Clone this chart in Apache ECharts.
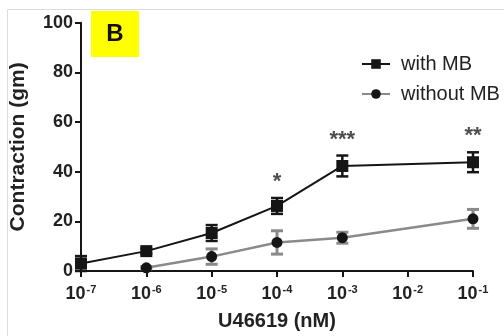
<!DOCTYPE html>
<html><head><meta charset="utf-8">
<script src="https://cdn.jsdelivr.net/npm/echarts@6/dist/echarts.min.js"></script>
<style>html,body{margin:0;padding:0;background:#fff}#c{width:504px;height:336px}</style>
</head><body><div id="c"></div>
<script>
// log10 of U46619 dose (nM)
const exponents = [-7, -6, -5, -4, -3, -2, -1];
const withX = [-7, -6, -5, -4, -3, -1];
const withMean = [3.0, 8.0, 15.3, 26.2, 42.3, 43.8];
const withErr = [3.0, 1.0, 3.2, 3.2, 4.2, 4.0];
const withoutX = [-6, -5, -4, -3, -1];
const withoutMean = [1.3, 5.8, 11.5, 13.4, 21.0];
const withoutErr = [0.5, 3.1, 4.7, 2.2, 3.8];
const sigX = [-4, -3, -1];
const sigY = [35.8, 52.7, 54.3];
const sigText = ['*', '***', '**'];
const yTicks = [0, 20, 40, 60, 80, 100];

const chart = echarts.init(document.getElementById('c'), null, {renderer: 'canvas'});
const FF = 'Liberation Sans, Arial, sans-serif';
const BLACK = '#151515', GRAY = '#8a8a8a';

function errSeries(xs, means, errs, color, w) {
  return {
    type: 'custom', silent: true, z: 3,
    data: xs.map((x, i) => [x, means[i] - errs[i], means[i] + errs[i]]),
    renderItem: function (params, api) {
      const lo = api.coord([api.value(0), api.value(1)]);
      const hi = api.coord([api.value(0), api.value(2)]);
      const cw = 6;
      const style = {stroke: color, lineWidth: w};
      return {type: 'group', children: [
        {type: 'line', shape: {x1: lo[0], y1: lo[1], x2: hi[0], y2: hi[1]}, style: style},
        {type: 'line', shape: {x1: lo[0] - cw, y1: lo[1], x2: lo[0] + cw, y2: lo[1]}, style: style},
        {type: 'line', shape: {x1: hi[0] - cw, y1: hi[1], x2: hi[0] + cw, y2: hi[1]}, style: style}
      ]};
    }
  };
}

chart.setOption({
  animation: false,
  backgroundColor: '#fff',
  grid: {left: 81, right: 31, top: 22.7, bottom: 61.7, containLabel: false},
  graphic: [
    {type: 'polyline', shape: {points: [[7.5, 336], [7.5, 9.5], [504, 9.5]]}, style: {stroke: '#dcdcdc', lineWidth: 1, fill: null}},
    {type: 'rect', shape: {x: 91, y: 11, width: 48, height: 46}, style: {fill: '#ffff00'}},
    {type: 'text', x: 115, y: 34, style: {text: 'B', font: 'bold 24px ' + FF, fill: '#111', align: 'center', verticalAlign: 'middle'}}
  ],
  legend: {
    left: 356, top: 49, orient: 'vertical', itemWidth: 28, itemHeight: 12, itemGap: 10,
    textStyle: {fontFamily: FF, fontSize: 20, color: '#222', padding: [0, 0, 0, 6]},
    data: ['with MB', 'without MB']
  },
  xAxis: {
    type: 'value', min: -7, max: -1, interval: 1,
    name: 'U46619 (nM)', nameLocation: 'middle', nameGap: 40,
    nameTextStyle: {fontFamily: FF, fontSize: 20, fontWeight: 'bold', color: '#222'},
    axisLine: {onZero: false, lineStyle: {color: BLACK, width: 2}},
    axisTick: {length: 6, lineStyle: {color: BLACK, width: 2}},
    splitLine: {show: false},
    axisLabel: {
      margin: 13,
      formatter: v => '{b|10}{s|' + v + '}',
      rich: {
        b: {fontFamily: FF, fontSize: 18, fontWeight: 'bold', color: '#222'},
        s: {fontFamily: FF, fontSize: 11, fontWeight: 'bold', color: '#222', padding: [0, 0, 10, 1]}
      }
    }
  },
  yAxis: {
    type: 'value', min: 0, max: 100, interval: 20,
    name: 'Contraction (gm)', nameLocation: 'middle', nameGap: 52,
    nameTextStyle: {fontFamily: FF, fontSize: 21, fontWeight: 'bold', color: '#222'},
    axisLine: {lineStyle: {color: BLACK, width: 2}},
    axisTick: {length: 6, lineStyle: {color: BLACK, width: 2}},
    splitLine: {show: false},
    axisLabel: {margin: 8, fontFamily: FF, fontSize: 18, fontWeight: 'bold', color: '#222',
      formatter: v => yTicks.includes(v) ? String(v) : ''}
  },
  series: [
    errSeries(withoutX, withoutMean, withoutErr, GRAY, 3),
    errSeries(withX, withMean, withErr, BLACK, 2.5),
    {
      name: 'without MB', type: 'line', z: 4,
      data: withoutX.map((x, i) => [x, withoutMean[i]]),
      symbol: 'circle', symbolSize: 11,
      lineStyle: {color: GRAY, width: 2.5},
      itemStyle: {color: BLACK, borderWidth: 0}
    },
    {
      name: 'with MB', type: 'line', z: 5,
      data: withX.map((x, i) => [x, withMean[i]]),
      symbol: 'rect', symbolSize: 12,
      lineStyle: {color: BLACK, width: 2},
      itemStyle: {color: BLACK, borderWidth: 0}
    },
    {
      type: 'scatter', silent: true, symbolSize: 0, z: 6,
      data: sigX.map((x, i) => ({value: [x, sigY[i]], name: sigText[i]})),
      label: {show: true, position: 'inside', formatter: p => p.name,
        fontFamily: FF, fontSize: 22, fontWeight: 'bold', color: '#222'}
    }
  ]
});
</script></body></html>
